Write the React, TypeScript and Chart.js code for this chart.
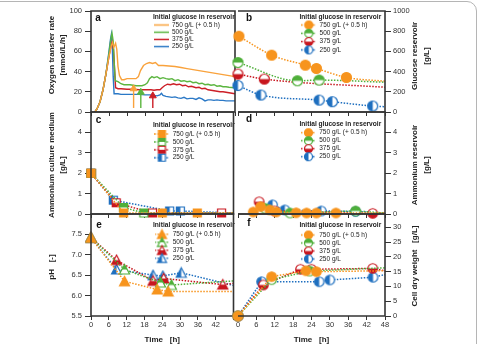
import React, { useEffect, useRef } from 'react';
import { Chart, registerables } from 'chart.js';

Chart.register(...registerables);

const FAMILY = "Arial, 'Liberation Sans', Helvetica, sans-serif";
const ORANGE = '#F7941D';
const GREEN = '#4FAF3A';
const RED = '#C8161E';
const BLUE = '#1E6FBF';
const SERIES_COLORS = [ORANGE, GREEN, RED, BLUE];
const OTR_COLORS = ['#F9A23C', '#5BB53F', '#CC1F27', '#2A78C6'];
const FRAME = '#333333';
const TICK_COLOR = '#333333';
const TEXT_COLOR = '#222222';

const seriesLabels = ['750 g/L (+ 0.5 h)', '500 g/L', '375 g/L', '250 g/L'];
const legendTitle = 'Initial glucose in reservoir';
const timeTicks = [0, 6, 12, 18, 24, 30, 36, 42, 48];
const END_T = 48;

// ---- panel a: oxygen transfer rate [mmol/L/h]
const otr750 = [[1.3, 0], [2, 3], [3, 10], [4, 22], [5, 38], [6, 55], [6.8, 66], [7.2, 69], [7.6, 64], [8.2, 68], [8.6, 62], [9.0, 45], [9.5, 36], [10.2, 32], [11, 32], [12, 33], [13, 33], [14, 33], [15, 33], [15.8, 35], [16.5, 41], [17.5, 46], [18.5, 48], [19.5, 49], [20.5, 48], [21.5, 49], [22.5, 46], [24, 46], [26, 45.5], [28, 45], [30, 44], [32, 43], [34, 42], [36, 41], [38, 40], [40, 39], [42, 38], [44, 37], [46, 36], [48, 35]];
const otr500 = [[1.3, 0], [2, 3], [3, 10], [4, 22], [5, 38], [6, 58], [6.6, 72], [7.0, 78], [7.4, 70], [7.8, 45], [8.1, 31], [9, 30], [10, 28], [11, 27], [12, 27], [13, 27], [14, 26.5], [15, 26], [16, 26], [17, 26], [18, 27], [18.8, 29], [19.5, 33], [20.3, 35], [21, 34], [22, 35], [23, 33], [24, 34], [25, 33], [26, 32.5], [27, 33], [28, 31], [29, 32], [30, 30.5], [31, 31], [32, 30], [33, 30.5], [34, 29], [35, 29.5], [36, 28], [37, 28.5], [38, 27], [39, 27.5], [40, 26.5], [41, 27], [42, 25.5], [43, 26], [44, 25], [45, 25], [46, 24.5], [48, 24]];
const otr375 = [[1.3, 0], [2, 3], [3, 10], [4, 22], [5, 38], [6, 55], [6.7, 66], [7.1, 70], [7.5, 62], [7.9, 40], [8.2, 24], [9, 23], [10, 23], [12, 22.5], [14, 22.5], [16, 22], [18, 22], [20, 22], [21, 21.5], [22, 22], [23, 22], [23.7, 24], [24.5, 26], [25.5, 27.5], [26.5, 27], [27.5, 28], [28.5, 27], [29.5, 27.5], [30.5, 26], [31.5, 26.5], [32.5, 25], [33.5, 25.5], [35, 24], [36, 24.5], [37, 23], [38, 23.5], [39, 22], [40, 21.5], [41, 21], [42, 20.5], [43, 20], [44, 20], [45, 19.5], [46, 19], [48, 18]];
const otr250 = [[1.3, 0], [2, 3], [3, 10], [4, 22], [5, 38], [6, 60], [6.5, 72], [6.8, 77], [7.1, 65], [7.4, 35], [7.7, 18], [9, 18], [10, 17.5], [12, 17.5], [14, 17.5], [16, 17.5], [18, 17], [20, 17], [21, 16.5], [22, 16], [23, 17], [23.5, 18.5], [24, 16.5], [25, 15.5], [26, 15], [27, 14.5], [28, 15], [29, 14], [30, 13.5], [31, 14.5], [32, 13], [33, 13.5], [34, 13.5], [35, 12.5], [36, 14], [37, 13], [38, 11], [39, 12], [40, 12], [41, 11.5], [42, 12], [43, 11.5], [44, 11.5], [45, 11], [46, 11], [48, 11]];
const arrowTimes = [14.2, 16.6, 20.6];
const arrowTips = [23, 19.5, 16];
const arrowBase = 4;
const otrTicks = [0, 20, 40, 60, 80, 100];

// ---- panel b: glucose reservoir [g/L]
const glucose750 = [[0.3, 750], [11, 563], [22, 464], [25.6, 431], [35.4, 342], [48, 305]];
const glucose500 = [[0, 490], [19.4, 309], [26.5, 316], [48, 295]];
const glucose375 = [[0, 375], [8.6, 326], [48, 245]];
const glucose250 = [[0, 262], [7.5, 168], [26.5, 118], [30.8, 102], [44, 59], [48, 52]];
const glucoseTicks = [0, 200, 400, 600, 800, 1000];

// ---- panel c: ammonium culture medium [g/L]
const nh4Med750 = [[0, 2], [11, 0.05], [24, 0.05], [35.8, 0.05], [48, 0.05]];
const nh4Med500 = [[0, 2], [11, 0.32], [17.8, 0.05], [48, 0.05]];
const nh4Med375 = [[0, 2], [8.5, 0.55], [20.7, 0.05], [44, 0.05], [48, 0.05]];
const nh4Med250 = [[0, 2], [7.5, 0.68], [26.5, 0.15], [30.1, 0.15], [48, 0.05]];
const nh4Ticks = [0, 1, 2, 3, 4];

// ---- panel d: ammonium reservoir [g/L]
const nh4Res750 = [[5, 0.1], [7.4, 0.36], [10.4, 0.2], [12.5, 0.1], [19, 0.06], [22.4, 0.05], [25.6, 0.05], [32, 0.05], [48, 0.05]];
const nh4Res500 = [[8.8, 0.28], [17, 0.05], [38.4, 0.15], [48, 0.05]];
const nh4Res375 = [[6.9, 0.6], [12, 0.15], [44, 0.03], [48, 0.03]];
const nh4Res250 = [[11.3, 0.45], [15.3, 0.2], [27.2, 0.15], [38.4, 0.12], [48, 0.05]];

// ---- panel e: pH
const ph750 = [[0, 7.42], [11.3, 6.35], [22.3, 6.15], [26, 6.1], [48, 6.1]];
const ph500 = [[0, 7.42], [11.3, 6.64], [23.4, 6.32], [27.1, 6.26], [48, 6.36]];
const ph375 = [[0, 7.42], [8.6, 6.87], [20.9, 6.36], [24.5, 6.42], [44.4, 6.27], [48, 6.3]];
const ph250 = [[0, 7.42], [8.6, 6.64], [20.9, 6.5], [24.2, 6.48], [30.4, 6.56], [48, 6.25]];
const phTicks = [5.5, 6.0, 6.5, 7.0, 7.5];

// ---- panel f: cell dry weight [g/L]
const cdw750 = [[0, 0], [11, 13.3], [22.2, 15.3], [25.6, 15.0], [48, 15.3]];
const cdw500 = [[0, 0], [11, 12.3], [23.4, 15.2], [48, 16.3]];
const cdw375 = [[0, 0], [8.3, 10.5], [20.4, 15.8], [24, 15.8], [44, 16.1], [48, 15.3]];
const cdw250 = [[0, 0], [7.7, 11.6], [26.5, 11.6], [30, 12.2], [44.1, 13.1], [48, 14]];
const cdwTicks = [0, 5, 10, 15, 20, 25, 30];

// ---------- layout
const ROWS = [
  { top: 0, h: 130, padTop: 11, xh: 18 },
  { top: 100, h: 132, padTop: 12, xh: 18 },
  { top: 202, h: 142, padTop: 12, xh: 28 },
];
const COLS = [
  { left: 0, w: 240, padLeft: 0, padRight: 2, yWidth: 91, pos: 'left', legendX: 153, tickPad: 3 },
  { left: 228, w: 250, padLeft: 10, padRight: 0, yWidth: 93, pos: 'right', legendX: 299.5, tickPad: 2 },
];

type Fill = 'full' | 'top' | 'bottom' | 'left';
const FILLS: Fill[] = ['full', 'top', 'bottom', 'left'];

function shapePath(ctx: CanvasRenderingContext2D, shape: string, cx: number, cy: number, s: number) {
  const r = s / 2;
  ctx.beginPath();
  if (shape === 'circle') ctx.arc(cx, cy, r, 0, Math.PI * 2);
  else if (shape === 'square') ctx.rect(cx - r, cy - r, s, s);
  else {
    const h = s * 0.9;
    ctx.moveTo(cx, cy - h / 2 - 0.5);
    ctx.lineTo(cx + r, cy + h / 2);
    ctx.lineTo(cx - r, cy + h / 2);
    ctx.closePath();
  }
}

function makeMarker(shape: string | null, color: string, fill: Fill, size: number, legendLine?: 'solid' | 'dot') {
  const pad = 1.5;
  const w = legendLine ? 15 : Math.ceil(size + pad * 2);
  const h = Math.ceil(Math.max(size, 4) + pad * 2);
  const c = document.createElement('canvas');
  c.width = w;
  c.height = h;
  const ctx = c.getContext('2d')!;
  const cx = w / 2;
  const cy = h / 2;
  if (legendLine) {
    ctx.strokeStyle = color;
    ctx.lineWidth = 1.5;
    if (legendLine === 'dot') ctx.setLineDash([1.5, 1.5]);
    ctx.beginPath();
    ctx.moveTo(0, cy);
    ctx.lineTo(w, cy);
    ctx.stroke();
    ctx.setLineDash([]);
  }
  if (shape && size > 0) {
    shapePath(ctx, shape, cx, cy, size);
    ctx.fillStyle = '#ffffff';
    ctx.fill();
    ctx.save();
    shapePath(ctx, shape, cx, cy, size);
    ctx.clip();
    ctx.fillStyle = color;
    const r = size / 2 + 1;
    if (fill === 'full') ctx.fillRect(cx - r, cy - r, 2 * r, 2 * r);
    else if (fill === 'top') ctx.fillRect(cx - r, cy - r, 2 * r, r);
    else if (fill === 'bottom') ctx.fillRect(cx - r, cy, 2 * r, r);
    else ctx.fillRect(cx - r, cy - r, r, 2 * r);
    ctx.restore();
    shapePath(ctx, shape, cx, cy, size);
    ctx.lineWidth = 1.2;
    ctx.strokeStyle = color;
    ctx.stroke();
  }
  return c;
}

function markerSeries(series: number[][][], shape: string, size: number, smooth = false) {
  return series.map((pts, i) => ({
    label: seriesLabels[i],
    data: pts.map(([x, y]) => ({ x, y })),
    borderColor: SERIES_COLORS[i],
    backgroundColor: SERIES_COLORS[i],
    borderWidth: 1.5,
    borderDash: [1.5, 1.5],
    pointStyle: makeMarker(shape, SERIES_COLORS[i], FILLS[i], size),
    pointRadius: (c: any) => (c.raw && c.raw.x >= END_T ? 0 : 5),
    pointHoverRadius: 0,
    tension: smooth ? 0.4 : 0,
    cubicInterpolationMode: smooth ? 'monotone' : 'default',
    clip: false,
  }));
}

function otrDatasets() {
  const lines = [otr750, otr500, otr375, otr250].map((pts, i) => ({
    label: seriesLabels[i],
    data: pts.map(([x, y]) => ({ x, y })),
    borderColor: OTR_COLORS[i],
    backgroundColor: OTR_COLORS[i],
    borderWidth: 1.4,
    pointRadius: 0,
    pointHoverRadius: 0,
    tension: 0,
  }));
  const arrows = arrowTimes.map((t, i) => ({
    label: 'arrow' + i,
    data: [{ x: t, y: arrowBase }, { x: t, y: arrowTips[i] }],
    borderColor: OTR_COLORS[i],
    backgroundColor: OTR_COLORS[i],
    borderWidth: 1.4,
    pointStyle: 'triangle',
    pointRadius: [0, 4],
    pointBorderWidth: 1,
    pointHoverRadius: 0,
  }));
  return [...arrows, ...lines];
}

const decoPlugin = {
  id: 'deco',
  afterDraw(chart: any, _args: any, o: any) {
    const { ctx, chartArea: ca } = chart;
    ctx.save();
    ctx.strokeStyle = FRAME;
    ctx.lineWidth = 1.6;
    ctx.beginPath();
    if (o.col === 0) {
      ctx.rect(ca.left, ca.top, ca.right - ca.left, ca.bottom - ca.top);
    } else {
      // shared left edge is drawn by the left-column chart
      ctx.moveTo(ca.left, ca.top);
      ctx.lineTo(ca.right, ca.top);
      ctx.lineTo(ca.right, ca.bottom);
      ctx.lineTo(ca.left, ca.bottom);
    }
    ctx.stroke();
    ctx.fillStyle = '#111111';
    ctx.font = `bold 10px ${FAMILY}`;
    ctx.textAlign = 'center';
    ctx.textBaseline = 'middle';
    ctx.fillText(o.letter, ca.left + o.letterDx, ca.top + o.letterDy);
    ctx.font = `bold 8px ${FAMILY}`;
    ctx.fillStyle = TEXT_COLOR;
    o.lines.forEach((t: string, i: number) => {
      ctx.save();
      ctx.translate(o.xs[i] - o.ox, o.y - o.oy);
      ctx.rotate(-Math.PI / 2);
      ctx.fillText(t, 0, 0);
      ctx.restore();
    });
    ctx.restore();
  },
};

const legendPlacePlugin = {
  id: 'legendPlace',
  afterLayout(chart: any, _args: any, o: any) {
    const lg = chart.legend;
    if (!lg) return;
    lg.left = o.left;
    lg.width = 120;
    lg.right = o.left + lg.width;
    lg.top = o.top;
    lg.bottom = chart.chartArea.bottom;
  },
};

interface Spec {
  col: number;
  row: number;
  letter: string;
  letterDx: number;
  letterDy: number;
  yMin: number;
  yMax: number;
  yTicks: number[];
  yFmt?: (v: number) => string;
  titleLines: string[];
  titleXs: number[];
  titleY: number;
  legendT: number;
  legendR1: number;
  legendS: number;
  datasets: () => any[];
  legendMarkers: () => HTMLCanvasElement[];
}

function buildConfig(p: Spec) {
  const g = ROWS[p.row];
  const c = COLS[p.col];
  const bottomRow = p.row === 2;
  const labelSize = 6.5;
  const titleSize = 6.6;
  const lpad = p.legendS - labelSize;
  const legendTop = p.legendT - titleSize / 2;
  const pb = p.legendR1 - legendTop - titleSize - lpad - labelSize / 2;
  const markers = p.legendMarkers();
  return {
    type: 'line',
    data: { datasets: p.datasets() },
    options: {
      animation: false,
      responsive: false,
      devicePixelRatio: 1,
      events: [],
      layout: { padding: { top: g.padTop, bottom: 0, left: c.padLeft, right: c.padRight } },
      scales: {
        x: {
          type: 'linear',
          min: 0,
          max: 48,
          afterBuildTicks: (s: any) => {
            s.ticks = timeTicks.map((v) => ({ value: v }));
          },
          afterFit: (s: any) => {
            s.height = g.xh;
          },
          grid: { drawOnChartArea: false, drawTicks: true, tickLength: 4, tickColor: TICK_COLOR, tickWidth: 1 },
          border: { display: false },
          ticks: {
            display: bottomRow,
            padding: 0,
            color: TICK_COLOR,
            font: { family: FAMILY, size: 7.5 },
            maxRotation: 0,
            autoSkip: false,
            callback: (v: number) => (p.col === 0 && v === 48 ? '' : String(v)),
          },
          title: {
            display: bottomRow,
            text: 'Time   [h]',
            color: TEXT_COLOR,
            font: { family: FAMILY, size: 8, weight: 'bold', lineHeight: 1 },
            padding: { top: 0, bottom: 0 },
          },
        },
        y: {
          type: 'linear',
          position: c.pos,
          min: p.yMin,
          max: p.yMax,
          afterBuildTicks: (s: any) => {
            s.ticks = p.yTicks.map((v) => ({ value: v }));
          },
          afterFit: (s: any) => {
            s.width = c.yWidth;
          },
          grid: { drawOnChartArea: false, drawTicks: true, tickLength: 6, tickColor: TICK_COLOR, tickWidth: 1 },
          border: { display: false },
          ticks: {
            padding: c.tickPad,
            color: TICK_COLOR,
            font: { family: FAMILY, size: 7.5 },
            callback: p.yFmt ? p.yFmt : (v: number) => String(v),
          },
        },
      },
      plugins: {
        tooltip: { enabled: false },
        legend: {
          display: true,
          position: 'chartArea',
          align: 'start',
          title: {
            display: true,
            text: legendTitle,
            position: 'start',
            color: TEXT_COLOR,
            font: { family: FAMILY, size: titleSize, weight: 'bold', lineHeight: 1 },
            padding: { top: 0, bottom: pb },
          },
          labels: {
            usePointStyle: true,
            pointStyleWidth: 15,
            padding: lpad,
            color: TEXT_COLOR,
            font: { family: FAMILY, size: labelSize, lineHeight: 1 },
            generateLabels: () =>
              seriesLabels.map((t, i) => ({
                text: t,
                pointStyle: markers[i],
                fillStyle: SERIES_COLORS[i],
                strokeStyle: SERIES_COLORS[i],
                lineWidth: 0,
                hidden: false,
                datasetIndex: i,
                fontColor: TEXT_COLOR,
              })),
          },
        },
        deco: {
          col: p.col,
          letter: p.letter,
          letterDx: p.letterDx,
          letterDy: p.letterDy,
          lines: p.titleLines,
          xs: p.titleXs,
          y: p.titleY,
          ox: c.left,
          oy: g.top,
        },
        legendPlace: { left: c.legendX - c.left, top: legendTop - g.top },
      },
    },
    plugins: [decoPlugin, legendPlacePlugin],
  };
}

const legendDots = (shape: string, size: number) => () =>
  SERIES_COLORS.map((col, i) => makeMarker(shape, col, FILLS[i], size, 'dot'));

const SPECS: Spec[] = [
  {
    col: 0, row: 0, letter: 'a', letterDx: 7, letterDy: 7,
    yMin: 0, yMax: 100, yTicks: otrTicks,
    titleLines: ['Oxygen transfer rate', '[mmol/L/h]'], titleXs: [52, 63], titleY: 55,
    legendT: 17.3, legendR1: 25, legendS: 7.2,
    datasets: otrDatasets,
    legendMarkers: () => OTR_COLORS.map((col) => makeMarker(null, col, 'full', 0, 'solid')),
  },
  {
    col: 1, row: 0, letter: 'b', letterDx: 11, letterDy: 7,
    yMin: 0, yMax: 1000, yTicks: glucoseTicks,
    titleLines: ['Glucose reservoir', '[g/L]'], titleXs: [415, 427], titleY: 56,
    legendT: 17.3, legendR1: 25, legendS: 8.3,
    datasets: () => markerSeries([glucose750, glucose500, glucose375, glucose250], 'circle', 10, true),
    legendMarkers: legendDots('circle', 8),
  },
  {
    col: 0, row: 1, letter: 'c', letterDx: 7.5, letterDy: 8,
    yMin: 0, yMax: 5, yTicks: nh4Ticks,
    titleLines: ['Ammonium culture medium', '[g/L]'], titleXs: [52, 63], titleY: 165,
    legendT: 125, legendR1: 134, legendS: 7.9,
    datasets: () => markerSeries([nh4Med750, nh4Med500, nh4Med375, nh4Med250], 'square', 8),
    legendMarkers: legendDots('square', 7),
  },
  {
    col: 1, row: 1, letter: 'd', letterDx: 11, letterDy: 7.5,
    yMin: 0, yMax: 5, yTicks: nh4Ticks,
    titleLines: ['Ammonium reservoir', '[g/L]'], titleXs: [415, 427], titleY: 165,
    legendT: 124, legendR1: 132.7, legendS: 8,
    datasets: () => markerSeries([nh4Res750, nh4Res500, nh4Res375, nh4Res250], 'circle', 9.5),
    legendMarkers: legendDots('circle', 8),
  },
  {
    col: 0, row: 2, letter: 'e', letterDx: 8, letterDy: 11,
    yMin: 5.5, yMax: 8.0, yTicks: phTicks, yFmt: (v: number) => v.toFixed(1),
    titleLines: ['pH   [-]'], titleXs: [52], titleY: 267,
    legendT: 225, legendR1: 234.3, legendS: 8,
    datasets: () => markerSeries([ph750, ph500, ph375, ph250], 'triangle', 10),
    legendMarkers: legendDots('triangle', 9),
  },
  {
    col: 1, row: 2, letter: 'f', letterDx: 11, letterDy: 9.5,
    yMin: 0, yMax: 34.5, yTicks: cdwTicks,
    titleLines: ['Cell dry weight   [g/L]'], titleXs: [415], titleY: 266,
    legendT: 225, legendR1: 235, legendS: 8,
    datasets: () => markerSeries([cdw750, cdw500, cdw375, cdw250], 'circle', 9.5),
    legendMarkers: legendDots('circle', 8),
  },
];

function Panel({ spec }: { spec: Spec }) {
  const ref = useRef<HTMLCanvasElement>(null);
  useEffect(() => {
    const chart = new Chart(ref.current as HTMLCanvasElement, buildConfig(spec) as any);
    return () => chart.destroy();
  }, [spec]);
  const r = ROWS[spec.row];
  const c = COLS[spec.col];
  return (
    <canvas
      ref={ref}
      width={c.w}
      height={r.h}
      style={{ position: 'absolute', left: c.left, top: r.top, width: c.w, height: r.h }}
    />
  );
}

export default function App() {
  return (
    <div style={{ position: 'absolute', left: 0, top: 0, width: 478, height: 344, overflow: 'hidden', background: '#ffffff' }}>
      <div
        style={{
          position: 'absolute', left: -12, top: 1, width: 489, height: 400,
          border: '1px solid #b5b5b5', borderRadius: 10, boxSizing: 'border-box',
        }}
      />
      {SPECS.map((s) => (
        <Panel key={s.letter} spec={s} />
      ))}
    </div>
  );
}
